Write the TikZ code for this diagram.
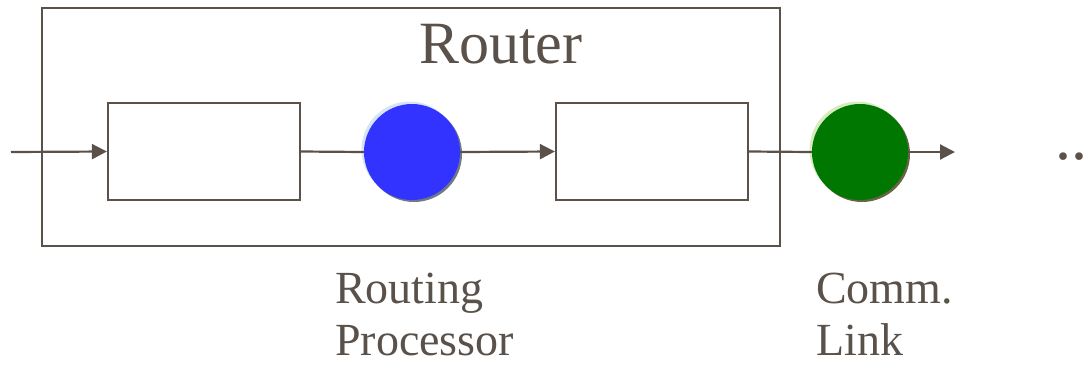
\documentclass[tikz,border=0pt]{standalone}
\usepackage{fontspec}
\setmainfont{Liberation Serif}
\usetikzlibrary{arrows.meta}
\definecolor{ink}{RGB}{90,82,74}
\definecolor{procblue}{RGB}{51,51,255}
\definecolor{linkgreen}{RGB}{0,119,0}
\definecolor{blueshade}{RGB}{112,120,136}
\definecolor{greenshade}{RGB}{104,100,70}
\definecolor{bluehalo}{RGB}{214,228,246}
\definecolor{greenhalo}{RGB}{214,236,190}
\tikzset{
  wire/.style={draw=ink, line width=2.2bp},
  flow/.style={wire, -{Triangle[length=15bp,width=15bp]}},
  buffer/.style={draw=ink, line width=2.2bp, minimum width=192bp, minimum height=97bp, inner sep=0pt},
  server/.style={circle, minimum size=96bp, inner sep=0pt},
  label/.style={text=ink, inner sep=0pt, font=\fontsize{46bp}{52bp}\selectfont, align=left},
}
\begin{document}
\begin{tikzpicture}[x=1bp,y=-1bp]
\useasboundingbox (0,0) rectangle (1091,365);
% router enclosure
\node[draw=ink, line width=2.2bp, minimum width=738bp, minimum height=238bp, inner sep=0pt] (router) at (411,127) {};
\node[text=ink, inner sep=0pt, anchor=base west, font=\fontsize{60bp}{66bp}\selectfont] (routertitle) at (419,63) {Router};
% input and output queues
\node[buffer] (inq) at (204,151.5) {};
\node[buffer] (outq) at (652,151.5) {};
% routing processor with its shading
\fill[blueshade] (414,154) circle (48bp);
\fill[bluehalo] (409.5,149.5) circle (48bp);
\node[server, fill=procblue] (proc) at (412,152) {};
% communication link with its shading
\fill[greenshade] (862,154) circle (48bp);
\fill[greenhalo] (857.5,149.5) circle (48bp);
\node[server, fill=linkgreen] (link) at (860,152) {};
% free ends
\coordinate (src) at (11,152);
\coordinate (sink) at (955,152);
\node[text=ink, inner sep=0pt, anchor=base west, font=\fontsize{64bp}{70bp}\selectfont] (more) at (1055,159) {..};
% connectors
\draw[flow] (src) -- (inq.west);
\draw[wire] (inq.east) -- (proc.west);
\draw[flow] (proc.east) -- (outq.west);
\draw[wire] (outq.east) -- (link.west);
\draw[flow] (link.east) -- (sink);
% captions (base anchor sits on the last line)
\node[label, anchor=base west] (proclabel) at (335,355) {Routing\\Processor};
\node[label, anchor=base west] (linklabel) at (816,355) {Comm.\\Link};
\end{tikzpicture}
\end{document}
